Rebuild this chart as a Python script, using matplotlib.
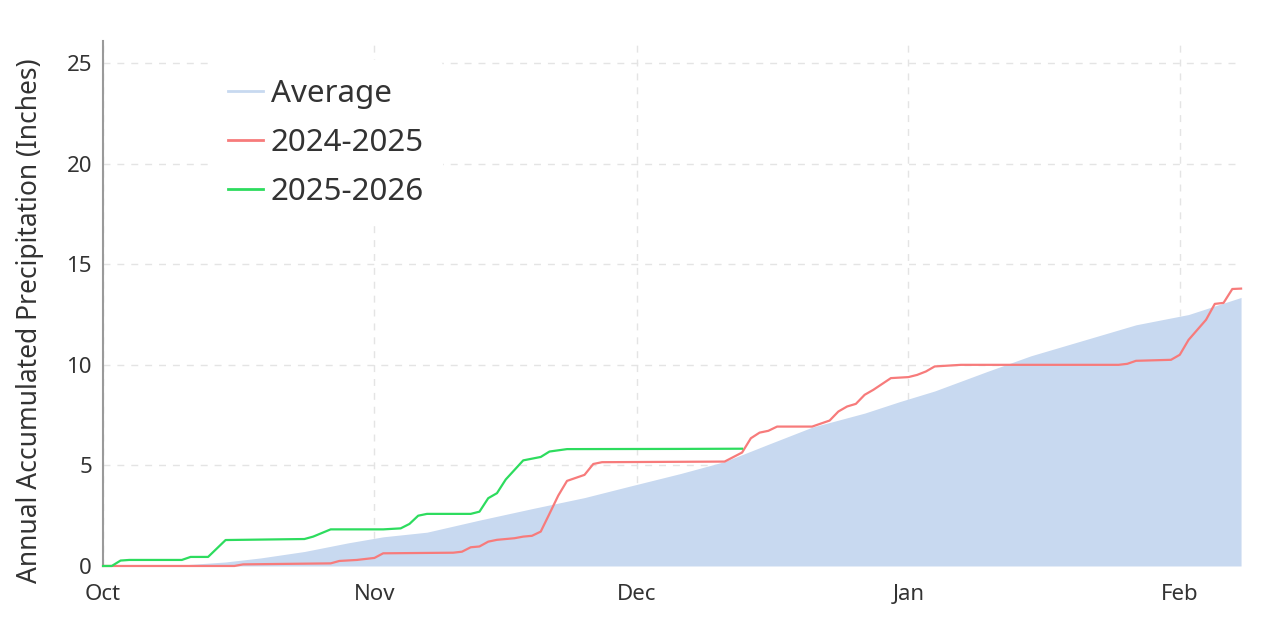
import matplotlib
matplotlib.use("Agg")
import matplotlib.pyplot as plt
import pandas as pd
from matplotlib.lines import Line2D

plt.rcParams['font.family'] = ['Noto Sans', 'DejaVu Sans']

# season start, x values are days since Oct 1
season_start = pd.Timestamp("2025-10-01")
month_labels = ["Oct", "Nov", "Dec", "Jan", "Feb"]
month_dates = ["2025-10-01", "2025-11-01", "2025-12-01", "2026-01-01", "2026-02-01"]
last_day = 130

# average accumulated precipitation (inches)
avg_days = [0, 5, 9, 14, 18, 23, 28, 32, 37, 43, 49, 55, 60, 66, 71, 76, 81, 87,
            91, 95, 101, 106, 112, 118, 124, 130]
avg_vals = [0, 0.02, 0.05, 0.2, 0.4, 0.72, 1.15, 1.45, 1.68, 2.28, 2.85, 3.4, 3.95,
            4.6, 5.19, 6.05, 6.9, 7.6, 8.17, 8.7, 9.67, 10.45, 11.22, 11.99, 12.5, 13.35]

# 2024-2025 season
red_days = [0, 15, 16, 26, 27, 29, 30, 31, 32, 40, 41, 42, 43, 44, 45, 47, 48, 49,
            50, 51, 52, 53, 55, 56, 57, 71, 73, 74, 75, 76, 77, 81, 83, 84, 85, 86,
            87, 88, 90, 92, 93, 94, 95, 98, 116, 117, 118, 122, 123, 124, 126, 127,
            128, 129, 130]
red_vals = [0, 0, 0.08, 0.13, 0.25, 0.3, 0.35, 0.4, 0.63, 0.66, 0.71, 0.93, 0.97,
            1.21, 1.3, 1.38, 1.46, 1.5, 1.71, 2.6, 3.5, 4.23, 4.53, 5.07, 5.16, 5.19,
            5.64, 6.35, 6.63, 6.72, 6.93, 6.93, 7.23, 7.68, 7.93, 8.06, 8.51, 8.76,
            9.34, 9.39, 9.5, 9.67, 9.92, 10.0, 10.0, 10.05, 10.2, 10.25, 10.5, 11.24,
            12.24, 13.03, 13.08, 13.77, 13.79]

# 2025-2026 season
green_days = [0, 1, 2, 3, 9, 10, 12, 14, 23, 24, 26, 32, 34, 35, 36, 37, 42, 43, 44,
              45, 46, 48, 50, 51, 53, 66, 73]
green_vals = [0, 0, 0.27, 0.3, 0.3, 0.45, 0.45, 1.29, 1.34, 1.46, 1.82, 1.82, 1.87,
              2.09, 2.5, 2.59, 2.59, 2.7, 3.37, 3.62, 4.3, 5.25, 5.42, 5.69, 5.81,
              5.82, 5.83]

month_pos = [(pd.Timestamp(d) - season_start).days for d in month_dates]

fig = plt.figure(figsize=(12.66, 6.21), dpi=100)
ax = fig.add_axes([0.0814, 0.0886, 0.8989, 0.8454])

ax.fill_between(avg_days, 0, avg_vals, color="#c8d9f0", linewidth=0, zorder=2,
                label="Average")
ax.plot(red_days, red_vals, color="#f77b7b", linewidth=1.6, zorder=3,
        label="2024-2025", clip_on=False)
ax.plot(green_days, green_vals, color="#2ddc5e", linewidth=1.6, zorder=4,
        label="2025-2026", clip_on=False)

ax.set_xlim(0, last_day)
ax.set_ylim(0, 26.1)
ax.set_xticks(month_pos)
ax.set_xticklabels(month_labels)
ax.set_yticks([0, 5, 10, 15, 20, 25])

ax.grid(True, linestyle=(0, (5, 5)), color="#e4e4e4", linewidth=1, zorder=0)
ax.set_axisbelow(True)
for s in ["top", "right", "bottom"]:
    ax.spines[s].set_visible(False)
ax.spines["left"].set_color("#9a9a9a")
ax.spines["left"].set_linewidth(1.5)
ax.tick_params(axis="both", length=0, labelsize=16, colors="#333333")
ax.tick_params(axis="y", pad=8)
ax.tick_params(axis="x", pad=13)

ax.set_ylabel("Annual Accumulated Precipitation (Inches)", fontsize=19,
              color="#333333")
ax.yaxis.set_label_coords(-0.052, 0.467)

# legend handle for the average is drawn as a line
handles = [Line2D([], [], color="#c8d9f0", linewidth=2),
           Line2D([], [], color="#f77b7b", linewidth=2),
           Line2D([], [], color="#2ddc5e", linewidth=2)]
leg = ax.legend(handles, ["Average", "2024-2025", "2025-2026"],
                loc="upper left", bbox_to_anchor=(0.08, 0.993), fontsize=22.5,
                frameon=True, facecolor="white", edgecolor="none", framealpha=1,
                handlelength=1.1, handletextpad=0.25, labelspacing=0.6,
                borderpad=0.6)
for t in leg.get_texts():
    t.set_color("#333333")

fig.savefig("out.png", dpi=100)
